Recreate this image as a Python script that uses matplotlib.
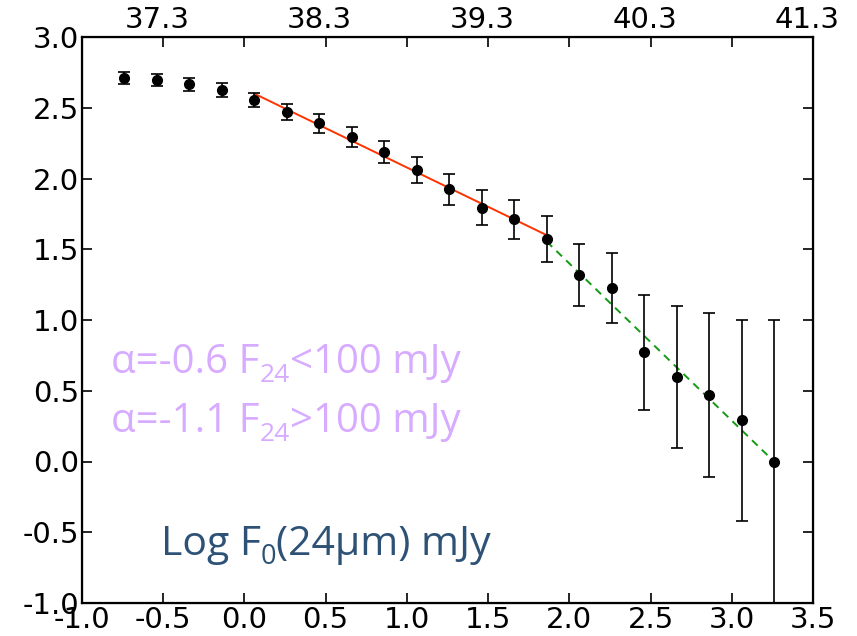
import matplotlib
matplotlib.use("Agg")
import matplotlib.pyplot as plt
import matplotlib.transforms as mtransforms

# ---- data ----
x = [-0.74, -0.54, -0.34, -0.14, 0.06, 0.26, 0.46, 0.66, 0.86, 1.06, 1.26,
     1.46, 1.66, 1.86, 2.06, 2.26, 2.46, 2.66, 2.86, 3.06, 3.26]
y = [2.708, 2.696, 2.666, 2.628, 2.555, 2.468, 2.390, 2.291, 2.187, 2.062, 1.923,
     1.794, 1.712, 1.575, 1.316, 1.226, 0.772, 0.597, 0.470, 0.293, 0.0]
yerr = [0.042, 0.045, 0.045, 0.050, 0.052, 0.058, 0.065, 0.071, 0.080, 0.092, 0.110,
        0.126, 0.139, 0.163, 0.22, 0.244, 0.408, 0.50, 0.578, 0.71, 1.0]

fit1_x = [0.06, 1.86]
fit1_y = [2.60, 1.60]
fit2_x = [1.86, 3.26]
fit2_y = [1.555, 0.0]

xticks = [-1.0, -0.5, 0.0, 0.5, 1.0, 1.5, 2.0, 2.5, 3.0, 3.5]
yticks = [-1.0, -0.5, 0.0, 0.5, 1.0, 1.5, 2.0, 2.5, 3.0]
top_ticks = [-0.5, 0.5, 1.5, 2.5, 3.5]
top_labels = ["37.3", "38.3", "39.3", "40.3", "41.3"]

fig = plt.figure(figsize=(8.57, 6.36), dpi=100)
ax = fig.add_axes([82/857, 1 - 603/636, (813-82)/857, (603-37)/636])

ax.errorbar(x, y, yerr=yerr, fmt='o', color='black', ms=7, elinewidth=1.2,
            capsize=4.5, capthick=1.2, zorder=3)
ax.plot(fit1_x, fit1_y, color='#ff3300', lw=1.4, zorder=2)
ax.plot(fit2_x, fit2_y, color='#139a13', lw=1.4, dashes=(4, 3), zorder=2)

ax.set_xlim(-1.0, 3.5)
ax.set_ylim(-1.0, 3.0)
ax.set_xticks(xticks)
ax.set_yticks(yticks)
ax.set_xticklabels([f"{v:.1f}" for v in xticks])
ax.set_yticklabels([f"{v:.1f}" for v in yticks])
ax.tick_params(direction='in', length=7, width=1.2, labelsize=21, pad=2,
               right=True, top=False)
for s in ax.spines.values():
    s.set_linewidth(1.6)

ax2 = ax.twiny()
ax2.set_xlim(ax.get_xlim())
ax2.set_xticks(xticks)
ax2.set_xticklabels([top_labels[top_ticks.index(t)] if t in top_ticks else "" for t in xticks])
ax2.tick_params(direction='in', length=7, width=1.2, labelsize=21, pad=2)
off = mtransforms.ScaledTranslation(-6/100, 0, fig.dpi_scale_trans)
for lab in ax2.get_xticklabels():
    lab.set_transform(lab.get_transform() + off)

renderer = fig.canvas.get_renderer()


def rich_text(x0, y0, pieces, color, family='Open Sans'):
    """pieces: list of (text, fontsize, dy_px). x0,y0 in pixels from top-left."""
    xp = x0
    for txt, size, dy in pieces:
        t = fig.text(xp / 857, 1 - (y0 + dy) / 636, txt, color=color, fontsize=size,
                     family=family, va='baseline', ha='left')
        bb = t.get_window_extent(renderer=renderer)
        xp = bb.x1


lav = '#d7abff'
rich_text(111, 373, [("α=-0.6 F", 29, 0), ("24", 19, 9), ("<100 mJy", 29, 0)], lav)
rich_text(111, 432, [("α=-1.1 F", 29, 0), ("24", 19, 9), (">100 mJy", 29, 0)], lav)
rich_text(161, 555, [("Log F", 29.5, 0), ("0", 19.5, 9), ("(24μm) mJy", 29.5, 0)], '#2e5276')

fig.savefig("out.png", dpi=100)
